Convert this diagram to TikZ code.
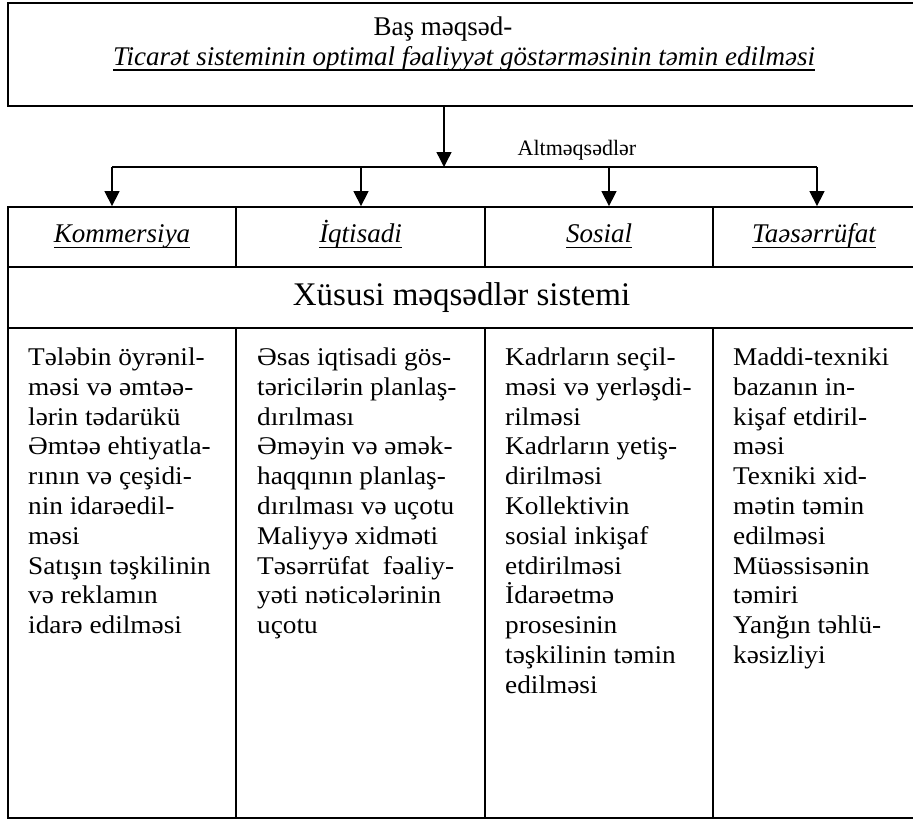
\documentclass[tikz,border=0pt]{standalone}
\usepackage{fontspec}
\setmainfont{Liberation Serif}
\newfontfamily\cellfont[FakeStretch=1.07]{Liberation Serif}
\usetikzlibrary{arrows.meta}

% underlined text with a rule just below the baseline
\newsavebox\ulbox
\newcommand{\uln}[1]{\sbox\ulbox{#1}\rlap{\vrule height -0.15em depth 0.21em width \wd\ulbox}\usebox\ulbox}

\tikzset{
  frame/.style={draw, line width=1.8pt, inner sep=0pt},
  arr/.style={line width=1.4pt, -{Triangle[width=15pt,length=15pt]}},
  bus/.style={line width=1.4pt},
  head/.style={frame, minimum height=60pt, text height=18pt, text depth=7pt, font=\fontsize{27}{32}\selectfont\itshape},
  celltext/.style={anchor=north west, inner sep=0pt, align=left, font=\cellfont\fontsize{25.5}{29.8}\selectfont},
}

\begin{document}
\begin{tikzpicture}[x=1pt,y=-1pt]
\useasboundingbox (0,0) rectangle (913,819);
\clip (0,0) rectangle (913,819);
% main goal
\node[frame, minimum width=907pt, minimum height=103pt] (goal) at (461.5,54.5) {};
\node[font=\fontsize{27}{32}\selectfont, anchor=base] (goalhead) at (443,35) {Baş məqsəd-};
\node[font=\fontsize{27}{32}\selectfont\itshape, anchor=base] (goalname) at (464,65) {\uln{Ticarət sisteminin optimal fəaliyyət göstərməsinin təmin edilməsi}};

% sub goals
\coordinate (hub) at (444,167);
\coordinate (b1) at (112,167);
\coordinate (b2) at (361,167);
\coordinate (b3) at (609,167);
\coordinate (b4) at (817,167);
\draw[arr] (hub |- goal.south) -- (hub);
\draw[bus] (b1) -- (b4);
\node[font=\fontsize{22}{26}\selectfont, anchor=base] (sub) at (577,155) {Altməqsədlər};

\node[head, minimum width=228pt] (h1) at (122,237) {\uln{Kommersiya}};
\node[head, minimum width=249pt] (h2) at (360.5,237) {\uln{İqtisadi}};
\node[head, minimum width=228pt] (h3) at (599,237) {\uln{Sosial}};
\node[head, minimum width=202pt] (h4) at (814,237) {\uln{Taəsərrüfat}};

\draw[arr] (b1) -- (b1 |- h1.north);
\draw[arr] (b2) -- (b2 |- h2.north);
\draw[arr] (b3) -- (b3 |- h3.north);
\draw[arr] (b4) -- (b4 |- h4.north);

\node[frame, minimum width=907pt, minimum height=61pt, font=\fontsize{33}{38}\selectfont] (special) at (461.5,297.5) {Xüsusi məqsədlər sistemi};

% columns
\node[frame, minimum width=228pt, minimum height=490pt] (c1) at (122,573) {};
\node[frame, minimum width=249pt, minimum height=490pt] (c2) at (360.5,573) {};
\node[frame, minimum width=228pt, minimum height=490pt] (c3) at (599,573) {};
\node[frame, minimum width=202pt, minimum height=490pt] (c4) at (814,573) {};

\node[celltext] (t1) at (28,347.5) {Tələbin öyrənil-\\məsi və əmtəə-\\lərin tədarükü\\Əmtəə ehtiyatla-\\rının və çeşidi-\\nin idarəedil-\\məsi\\Satışın təşkilinin\\və reklamın\\idarə edilməsi};
\node[celltext] (t2) at (257,347.5) {Əsas iqtisadi gös-\\təricilərin planlaş-\\dırılması\\Əməyin və əmək-\\haqqının planlaş-\\dırılması və uçotu\\Maliyyə xidməti\\Təsərrüfat~ fəaliy-\\yəti nəticələrinin\\uçotu};
\node[celltext] (t3) at (505,347.5) {Kadrların seçil-\\məsi və yerləşdi-\\rilməsi\\Kadrların yetiş-\\dirilməsi\\Kollektivin\\sosial inkişaf\\etdirilməsi\\İdarəetmə\\prosesinin\\təşkilinin təmin\\edilməsi};
\node[celltext] (t4) at (733,347.5) {Maddi-texniki\\bazanın in-\\kişaf etdiril-\\məsi\\Texniki xid-\\mətin təmin\\edilməsi\\Müəssisənin\\təmiri\\Yanğın təhlü-\\kəsizliyi};
\end{tikzpicture}
\end{document}
